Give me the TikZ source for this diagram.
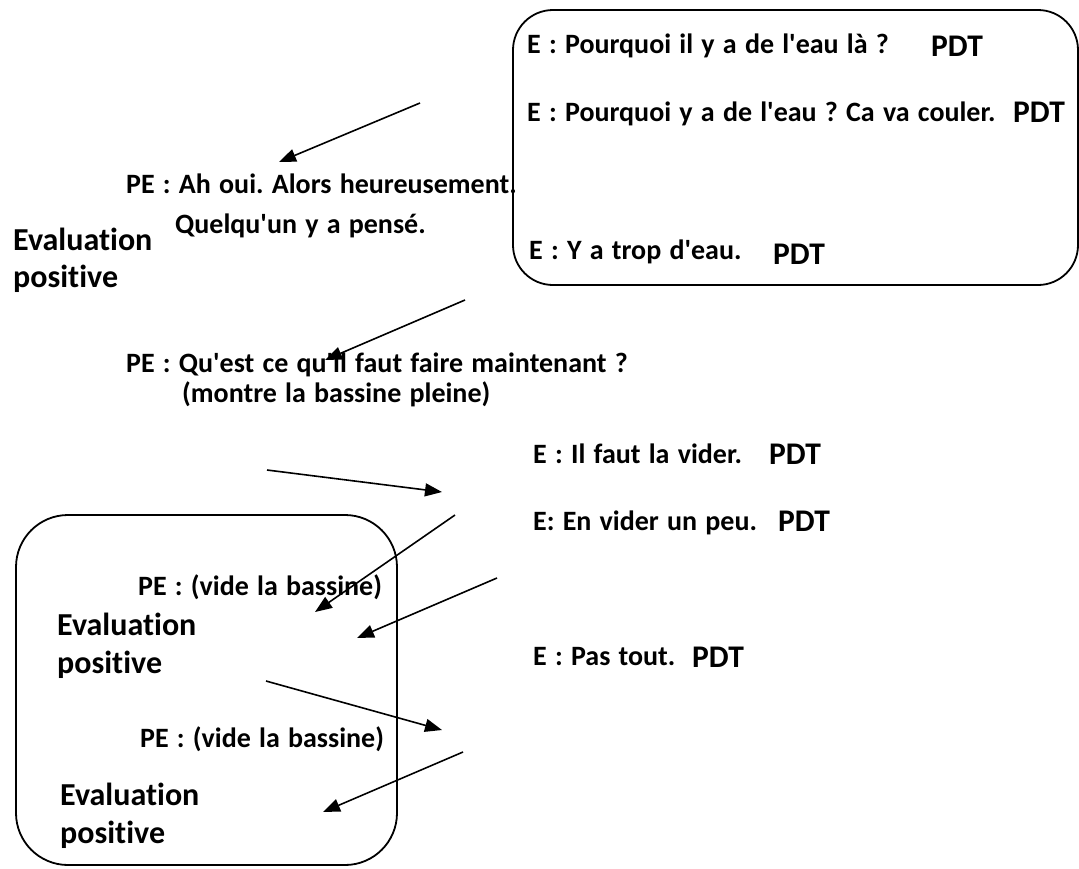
\documentclass[tikz,border=0pt]{standalone}
\usepackage{fontspec}
\setmainfont{Carlito}[Ligatures={TeXOff,NoCommon},WordSpace=1.3]
\usetikzlibrary{arrows.meta}
\frenchspacing

\begin{document}
\begin{tikzpicture}[x=1pt,y=-1pt,
  talk/.style={anchor=base west,inner sep=0pt,font=\fontsize{28}{34}\selectfont\bfseries},
  evalt/.style={anchor=base west,inner sep=0pt,font=\fontsize{32}{38}\selectfont\bfseries},
  pdt/.style={anchor=base west,inner sep=0pt,font=\fontsize{31.5}{38}\selectfont\bfseries},
  frame/.style={line width=1.8pt,rounded corners=#1},
  turn/.style={line width=1.6pt,-{Triangle[length=17pt,width=13pt]}}]
\useasboundingbox (0,0) rectangle (1079,868);
\draw[frame=40pt] (513,10) rectangle (1078,285);
\draw[frame=52pt] (16,515) rectangle (397,865);
% pupils, top box
\node[talk] (e1) at (527,53) {E : Pourquoi il y a de l'eau là ?};
\node[pdt] (p1) at (931,56) {PDT};
\node[talk] (e2) at (527,121) {E : Pourquoi y a de l'eau ? Ca va couler.};
\node[pdt] (p2) at (1013,122) {PDT};
\node[talk] (e3) at (529,259) {E : Y a trop d'eau.};
\node[pdt] (p3) at (773,264) {PDT};
% teacher
\node[talk] (pe1) at (126,193) {PE : Ah oui. Alors heureusement.};
\node[talk] (pe1b) at (175,233) {Quelqu'un y a pensé.};
\node[evalt] (ev1) at (13,250) {Evaluation};
\node[evalt] (ev1b) at (13,287) {positive};
\node[talk] (pe2) at (126,372) {PE : Qu'est ce qu'il faut faire maintenant ?};
\node[talk] (pe2b) at (182,402) {(montre la bassine pleine)};
% pupils, middle
\node[talk] (e4) at (533,463) {E : Il faut la vider.};
\node[pdt] (p4) at (769,464) {PDT};
\node[talk] (e5) at (533,530) {E: En vider un peu.};
\node[pdt] (p5) at (778,531) {PDT};
\node[talk] (e6) at (533,665) {E : Pas tout.};
\node[pdt] (p6) at (692,667) {PDT};
% bottom box
\node[talk] (pe3) at (138,595) {PE : (vide la bassine)};
\node[evalt] (ev2) at (57,635) {Evaluation};
\node[evalt] (ev2b) at (57,673) {positive};
\node[talk] (pe4) at (140,747) {PE : (vide la bassine)};
\node[evalt] (ev3) at (60,805) {Evaluation};
\node[evalt] (ev3b) at (60,843) {positive};
% arrows
\coordinate (a1) at (420,103); \coordinate (b1) at (279,162);
\coordinate (a2) at (465,300); \coordinate (b2) at (325,360);
\coordinate (a3) at (267,470); \coordinate (b3) at (442,492);
\coordinate (a4) at (455,515); \coordinate (b4) at (315,612);
\coordinate (a5) at (497,578); \coordinate (b5) at (357,638);
\coordinate (a6) at (266,681); \coordinate (b6) at (442,730);
\coordinate (a7) at (463,752); \coordinate (b7) at (323,812);
\foreach \i in {1,...,7}
  \draw[turn] (a\i) -- (b\i);
\end{tikzpicture}
\end{document}
